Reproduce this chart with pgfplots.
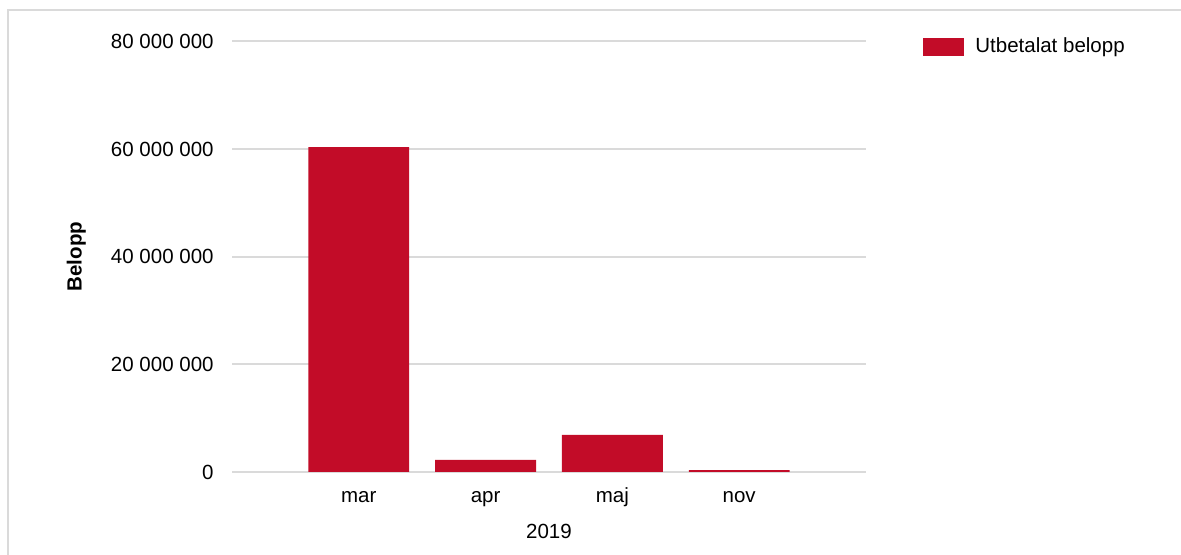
\documentclass[border=0pt]{standalone}
\usepackage{pgfplots}
\pgfplotsset{compat=1.18}
\usepackage{fontspec}
\setmainfont{Liberation Sans}
\definecolor{barred}{HTML}{C20C28}
\definecolor{gridgray}{HTML}{DADADA}
\begin{document}
\fontsize{10.25}{12}\selectfont
\begin{tikzpicture}[x=0.5pt,y=0.5pt]
\path[use as bounding box] (0,0) rectangle (1181,555);
\draw[gridgray, line width=1pt] (8,0) -- (8,545) -- (1181,545);
\begin{axis}[
  at={(116pt,41.5pt)}, anchor=south west,
  width=317pt, height=215.5pt, scale only axis,
  xmin=-1, xmax=4, ymin=0, ymax=80000000,
  axis line style={draw=none},
  scaled y ticks=false,
  ytick={0,20000000,40000000,60000000,80000000},
  yticklabels={0,20 000 000,40 000 000,60 000 000,80 000 000},
  xtick={0,1,2,3},
  xticklabels={mar,apr,maj,nov},
  tick style={draw=none},
  ymajorgrids, grid style={gridgray, line width=1pt},
  yticklabel style={anchor=base east, inner sep=0pt, xshift=-9pt, yshift=-3.7pt},
  xticklabel style={anchor=base, inner sep=0pt, yshift=-15.5pt},
  xlabel={2019},
  xlabel style={at={(axis description cs:0.5,0)}, anchor=base, inner sep=0pt, yshift=-33.5pt},
  ylabel={\bfseries Belopp},
  ylabel style={at={(axis description cs:-0.237,0.5)}, anchor=base, inner sep=0pt},
  legend style={draw=none, fill=none, inner sep=0pt, at={(axis description cs:1.0899,0.986)}, anchor=west,
    nodes={inner sep=0pt}, /tikz/every odd column/.style={column sep=5.5pt}},
  legend image code/.code={\fill[#1] (0pt,-4.5pt) rectangle (20.5pt,4.5pt);},
  clip=false,
]
\addplot[ybar, bar width=0.795, fill=barred, draw=none, bar shift=0pt]
  coordinates {(0,60300000) (1,2250000) (2,6900000) (3,350000)};
\addlegendentry{Utbetalat belopp}
\end{axis}
\end{tikzpicture}
\end{document}
